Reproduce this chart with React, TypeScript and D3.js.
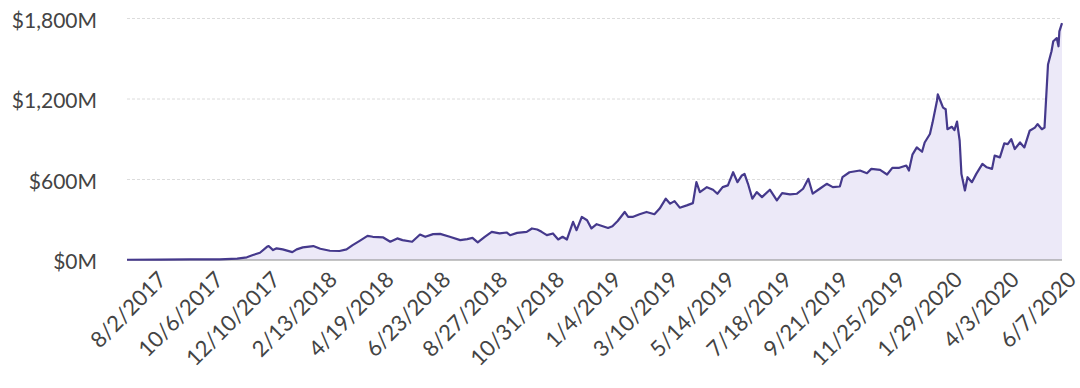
import React from "react";
import * as d3 from "d3";

const WIDTH = 1080;
const HEIGHT = 388;

// [date, value in $M]
const dates: string[] = [
  "2017-06-30","2017-08-07","2017-09-10","2017-10-14","2017-11-03","2017-11-14","2017-11-21","2017-11-29",
  "2017-12-07","2017-12-09","2017-12-14","2017-12-18","2017-12-25","2018-01-05","2018-01-10","2018-01-17",
  "2018-01-29","2018-02-06","2018-02-17","2018-02-28","2018-03-08","2018-03-15","2018-03-23","2018-04-01",
  "2018-04-07","2018-04-19","2018-04-27","2018-05-05","2018-05-11","2018-05-22","2018-05-31","2018-06-06",
  "2018-06-15","2018-06-23","2018-07-04","2018-07-16","2018-07-24","2018-07-30","2018-08-05","2018-08-13",
  "2018-08-21","2018-08-30","2018-09-07","2018-09-11","2018-09-19","2018-09-30","2018-10-06","2018-10-12",
  "2018-10-17","2018-10-23","2018-10-30","2018-11-05","2018-11-10","2018-11-15","2018-11-22","2018-11-26",
  "2018-12-02","2018-12-08","2018-12-13","2018-12-19","2018-12-26","2019-01-01","2019-01-06","2019-01-12",
  "2019-01-20","2019-01-24","2019-01-29","2019-02-06","2019-02-14","2019-02-23","2019-03-01","2019-03-08",
  "2019-03-13","2019-03-18","2019-03-24","2019-04-01","2019-04-08","2019-04-12","2019-04-16","2019-04-24",
  "2019-05-01","2019-05-06","2019-05-12","2019-05-18","2019-05-24","2019-05-29","2019-06-03","2019-06-06",
  "2019-06-10","2019-06-15","2019-06-20","2019-06-26","2019-07-05","2019-07-13","2019-07-19","2019-07-28",
  "2019-08-05","2019-08-12","2019-08-18","2019-08-23","2019-08-31","2019-09-08","2019-09-15","2019-09-23",
  "2019-09-26","2019-10-04","2019-10-16","2019-10-24","2019-10-29","2019-11-08","2019-11-16","2019-11-22",
  "2019-11-30","2019-12-08","2019-12-11","2019-12-15","2019-12-20","2019-12-26","2019-12-29","2020-01-04",
  "2020-01-07","2020-01-12","2020-01-13","2020-01-16","2020-01-19","2020-01-22","2020-01-24","2020-01-29",
  "2020-02-01","2020-02-04","2020-02-07","2020-02-09","2020-02-13","2020-02-16","2020-02-21","2020-02-26",
  "2020-03-04","2020-03-09","2020-03-15","2020-03-18","2020-03-24","2020-03-29","2020-04-02","2020-04-06",
  "2020-04-10","2020-04-16","2020-04-21","2020-04-27","2020-05-03","2020-05-06","2020-05-11","2020-05-14",
  "2020-05-18","2020-05-22","2020-05-24","2020-05-28","2020-05-30","2020-05-31","2020-06-03",
];

const values: number[] = [
  2, 3, 4, 5, 10, 20, 37, 54,
  98, 104, 74, 87, 79, 59, 79, 94,
  104, 84, 69, 67, 79, 111, 143, 180,
  173, 168, 136, 161, 148, 136, 190, 173,
  193, 195, 173, 148, 156, 165, 131, 173,
  210, 198, 205, 185, 202, 210, 235, 227,
  210, 185, 198, 153, 173, 153, 284, 222,
  321, 296, 235, 267, 252, 239, 252, 291,
  358, 321, 321, 341, 358, 341, 383, 457,
  420, 439, 390, 407, 424, 580, 506, 543,
  524, 494, 543, 556, 654, 580, 630, 642,
  568, 457, 506, 469, 524, 444, 498, 489,
  494, 531, 605, 494, 531, 568, 543, 548,
  617, 654, 667, 647, 679, 672, 637, 687,
  687, 704, 667, 785, 839, 807, 876, 939,
  1024, 1185, 1235, 1185, 1136, 1124, 975, 993,
  968, 1032, 889, 642, 518, 617, 580, 642,
  716, 691, 679, 778, 765, 869, 864, 901,
  827, 876, 839, 963, 987, 1013, 975, 987,
  1457, 1556, 1630, 1654, 1593, 1704, 1765,
];

const yTicks: number[] = [0, 600, 1200, 1800];
const xTickLabels: string[] = [
  "8/2/2017","10/6/2017","12/10/2017","2/13/2018","4/19/2018","6/23/2018","8/27/2018",
  "10/31/2018","1/4/2019","3/10/2019","5/14/2019","7/18/2019","9/21/2019","11/25/2019",
  "1/29/2020","4/3/2020","6/7/2020",
];

const parse = d3.timeParse("%Y-%m-%d");
const parseLabel = d3.timeParse("%m/%d/%Y");

export default function App() {
  const data = dates.map((d, i) => ({ date: parse(d) as Date, value: values[i] }));
  const x = d3
    .scaleTime()
    .domain([data[0].date, data[data.length - 1].date])
    .range([127, 1062]);
  const y = d3.scaleLinear().domain([0, 1800]).range([260, 18.5]);

  const line = d3
    .line<{ date: Date; value: number }>()
    .x((d) => x(d.date))
    .y((d) => y(d.value));
  const area = d3
    .area<{ date: Date; value: number }>()
    .x((d) => x(d.date))
    .y0(y(0))
    .y1((d) => y(d.value));

  const font = "Lato, 'Source Sans Pro', 'Noto Sans', sans-serif";

  return (
    <svg
      width={WIDTH}
      height={HEIGHT}
      style={{ position: "absolute", left: 0, top: 0, background: "#fff" }}
    >
      {yTicks.slice(1).map((t) => (
        <line
          key={"g" + t}
          x1={127}
          x2={1062}
          y1={y(t)}
          y2={y(t)}
          stroke="#dcdcdc"
          strokeWidth={1}
          strokeDasharray="3 2"
        />
      ))}
      <path d={area(data) || ""} fill="#ece9f8" />
      <line x1={127} x2={1062} y1={y(0)} y2={y(0)} stroke="#8a8a8a" strokeWidth={1} />
      <path
        d={line(data) || ""}
        fill="none"
        stroke="#45398c"
        strokeWidth={2.2}
        strokeLinejoin="round"
      />
      {yTicks.map((t) => (
        <text
          key={"y" + t}
          x={97}
          y={y(t) + 2}
          dy="0.35em"
          textAnchor="end"
          fontFamily={font}
          fontSize={21}
          fill="#444"
        >
          {"$" + d3.format(",")(t) + "M"}
        </text>
      ))}
      {xTickLabels.map((lbl) => {
        const tx = x(parseLabel(lbl) as Date);
        return (
          <text
            key={lbl}
            transform={`translate(${tx + 12},${281}) rotate(-45)`}
            textAnchor="end"
            fontFamily={font}
            fontSize={22}
            fill="#444"
          >
            {lbl}
          </text>
        );
      })}
    </svg>
  );
}
